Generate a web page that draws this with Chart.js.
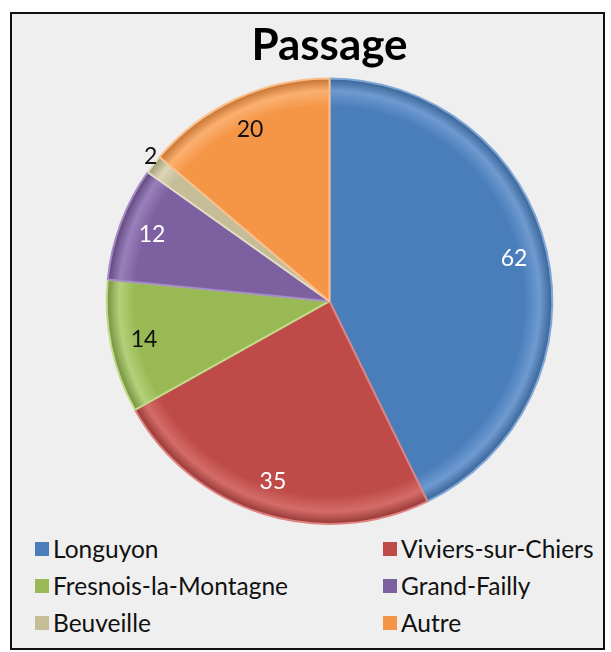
<!DOCTYPE html>
<html lang="fr">
    <head>
        <meta charset="UTF-8" />
        <title>Passage</title>
        <script src="https://cdn.jsdelivr.net/npm/chart.js@4.4.1/dist/chart.umd.min.js"></script>
        <style>
            body { margin: 0; background: #fff; }
            #box {
                position: absolute; left: 10px; top: 12px;
                width: 591px; height: 634px;
                border: 2px solid #111; background: #efefef;
            }
            #wrap { position: relative; width: 591px; height: 520px; }
            #legend {
                position: absolute; left: 23px; top: 521px; width: 570px;
                display: grid; grid-template-columns: 348px 222px; row-gap: 10px;
                font-family: Lato, sans-serif; font-size: 24.5px; color: #111;
            }
            #legend div { display: flex; align-items: center; height: 27px; }
            #legend span.sw { width: 14px; height: 14px; margin-right: 4px; display: inline-block; }
        </style>
    </head>
    <body>
        <div id="box">
            <div id="wrap"><canvas id="chart"></canvas></div>
            <div id="legend"></div>
        </div>
        <script>
        const labels = ['Longuyon', 'Viviers-sur-Chiers', 'Fresnois-la-Montagne', 'Grand-Failly', 'Beuveille', 'Autre'];
        const values = [62, 35, 14, 12, 2, 20];
        const colors = ['#4a7ebb', '#be4b48', '#98b954', '#7d60a0', '#c4bd97', '#f59546'];
        const lightColors = ['#6e9ad0', '#d46c69', '#b3d17a', '#9a80bb', '#dcd6b6', '#fbb070'];
        const darkColors = ['#345f92', '#8f3331', '#6f8a3a', '#5a4378', '#9a9370', '#c06d2a'];
        const edgeColors = ['#7fa6d6', '#e08380', '#c0dc88', '#a68cc6', '#e4dfc4', '#fbbe8a'];
        const labelColors = ['#fff', '#fff', '#111', '#fff', '#111', '#111'];

        // bevel-like shading: flat inside, light ring near the rim, darker edge
        function sliceFill(context) {
            const i = context.dataIndex;
            const area = context.chart.chartArea;
            if (!area) return colors[i];
            const cx = (area.left + area.right) / 2;
            const cy = (area.top + area.bottom) / 2;
            const r = Math.min(area.right - area.left, area.bottom - area.top) / 2;
            const g = context.chart.ctx.createRadialGradient(cx, cy, 0, cx, cy, r);
            g.addColorStop(0, colors[i]);
            g.addColorStop(0.87, colors[i]);
            g.addColorStop(0.94, lightColors[i]);
            g.addColorStop(1, darkColors[i]);
            return g;
        }

        // value labels drawn on the slices
        const sliceLabels = {
            id: 'sliceLabels',
            afterDatasetsDraw(chart) {
                const c = chart.ctx;
                const arcs = chart.getDatasetMeta(0).data;
                c.save();
                c.font = '23px Lato, sans-serif';
                c.textAlign = 'center';
                c.textBaseline = 'middle';
                arcs.forEach((arc, i) => {
                    const mid = (arc.startAngle + arc.endAngle) / 2;
                    const small = values[i] < 5;
                    const r = arc.outerRadius * (small ? 1.0 : 0.85);
                    const x = arc.x + Math.cos(mid) * r;
                    const y = arc.y + Math.sin(mid) * r;
                    c.fillStyle = labelColors[i];
                    c.fillText(String(values[i]), small ? x - 3 : x, small ? y - 8 : y);
                });
                c.restore();
            }
        };

        const ctx = document.getElementById('chart').getContext('2d');
        const myChart = new Chart(ctx, {
            type: 'pie',
            data: {
                labels: labels,
                datasets: [{
                    data: values,
                    backgroundColor: sliceFill,
                    borderColor: edgeColors,
                    borderWidth: 2
                }]
            },
            options: {
                responsive: true,
                maintainAspectRatio: false,
                animation: false,
                events: [],
                layout: { padding: { left: 44, right: 0, top: 0, bottom: 9 } },
                plugins: {
                    legend: { display: false },
                    tooltip: { enabled: false },
                    title: {
                        display: true,
                        text: 'Passage',
                        color: '#000',
                        font: { family: 'Lato, sans-serif', size: 44, weight: 'bold', lineHeight: 1.1 },
                        padding: { top: 8, bottom: 7 }
                    }
                }
            },
            plugins: [sliceLabels]
        });

        const legend = document.getElementById('legend');
        labels.forEach((name, i) => {
            const item = document.createElement('div');
            item.innerHTML = '<span class="sw" style="background:' + colors[i] + '"></span>' + name;
            legend.appendChild(item);
        });
        </script>
    </body>
</html>
